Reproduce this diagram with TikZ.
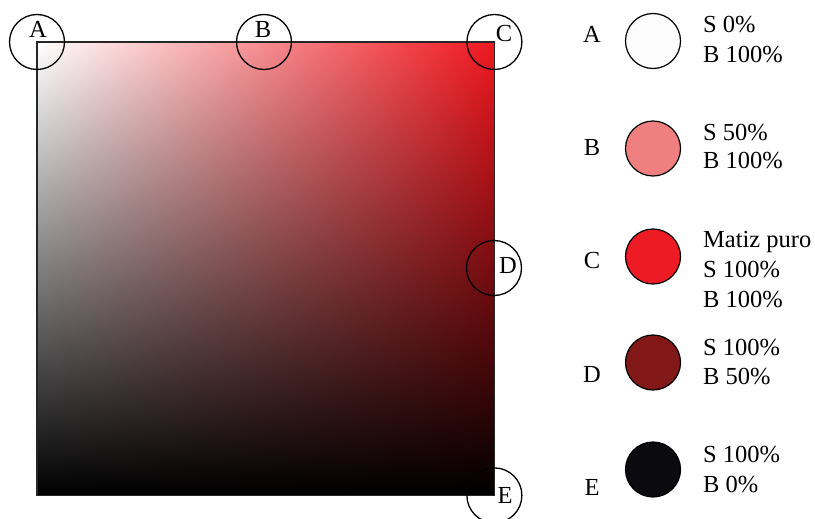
\documentclass[tikz,border=0pt]{standalone}
\usepackage{fontspec}
\setmainfont{Liberation Serif}
\pgfdeclarefunctionalshading{hsbsq}{\pgfpointorigin}{\pgfpoint{457pt}{453pt}}{}{%
451.4 div exch 455.4 div
dup 0.06 mul 1 exch sub 2 index mul 3 1 roll
dup 0.91 mul 1 exch sub 2 index mul 3 1 roll
0.88 mul 1 exch sub mul}
\definecolor{swA}{RGB}{252,252,252}
\definecolor{swB}{RGB}{240,128,128}
\definecolor{swC}{RGB}{237,28,36}
\definecolor{swD}{RGB}{130,24,24}
\definecolor{swE}{RGB}{10,10,15}
\begin{document}
\begin{tikzpicture}[x=1pt,y=-1pt,
  ring/.style={circle,draw=black,line width=1.3pt,minimum size=55pt,inner sep=0pt},
  swatch/.style={circle,draw=black,line width=1.2pt,minimum size=55pt,inner sep=0pt},
  lab/.style={inner sep=0pt,font=\fontsize{24.5}{30}\selectfont,anchor=base},
  txt/.style={inner sep=0pt,font=\fontsize{24.5}{30}\selectfont,anchor=base west}]
\useasboundingbox[fill=white] (0,0) rectangle (815,519);
% gradient square
\node[inner sep=0pt,anchor=north west] (sq) at (37,42) {\pgfuseshading{hsbsq}};
\draw[line width=1.3pt,black!85] (sq.north west) rectangle (sq.south east);
% marker circles
\coordinate (pB) at (264,42);
\coordinate (pD) at (494,268);
\node[ring] (cA) at (sq.north west) {};
\node[ring] (cB) at (pB) {};
\node[ring] (cC) at (sq.north east) {};
\node[ring] (cD) at (pD) {};
\node[ring] (cE) at (sq.south east) {};
\node[lab] (lA) at (38,38) {A};
\node[lab] (lB) at (263,38) {B};
\node[lab] (lC) at (504,42) {C};
\node[lab] (lD) at (508,273) {D};
\node[lab] (lE) at (505,503) {E};
% legend
\node[lab] (kA) at (592,43) {A};
\node[lab] (kB) at (592,155) {B};
\node[lab] (kC) at (592,268) {C};
\node[lab] (kD) at (592,382) {D};
\node[lab] (kE) at (592,495) {E};
\node[swatch,fill=swA] (sA) at (653,41) {};
\node[swatch,fill=swB] (sB) at (653,148.5) {};
\node[swatch,fill=swC] (sC) at (653,256.5) {};
\node[swatch,fill=swD] (sD) at (653,362.5) {};
\node[swatch,fill=swE] (sE) at (653,469.5) {};
\node[txt] (tA1) at (703,33) {S 0\%};
\node[txt] (tA2) at (703,63) {B 100\%};
\node[txt] (tB1) at (703,140) {S 50\%};
\node[txt] (tB2) at (703,168) {B 100\%};
\node[txt] (tC0) at (703,247) {Matiz puro};
\node[txt] (tC1) at (703,277) {S 100\%};
\node[txt] (tC2) at (703,307) {B 100\%};
\node[txt] (tD1) at (703,355) {S 100\%};
\node[txt] (tD2) at (703,384) {B 50\%};
\node[txt] (tE1) at (703,462) {S 100\%};
\node[txt] (tE2) at (703,492) {B 0\%};
\end{tikzpicture}
\end{document}
